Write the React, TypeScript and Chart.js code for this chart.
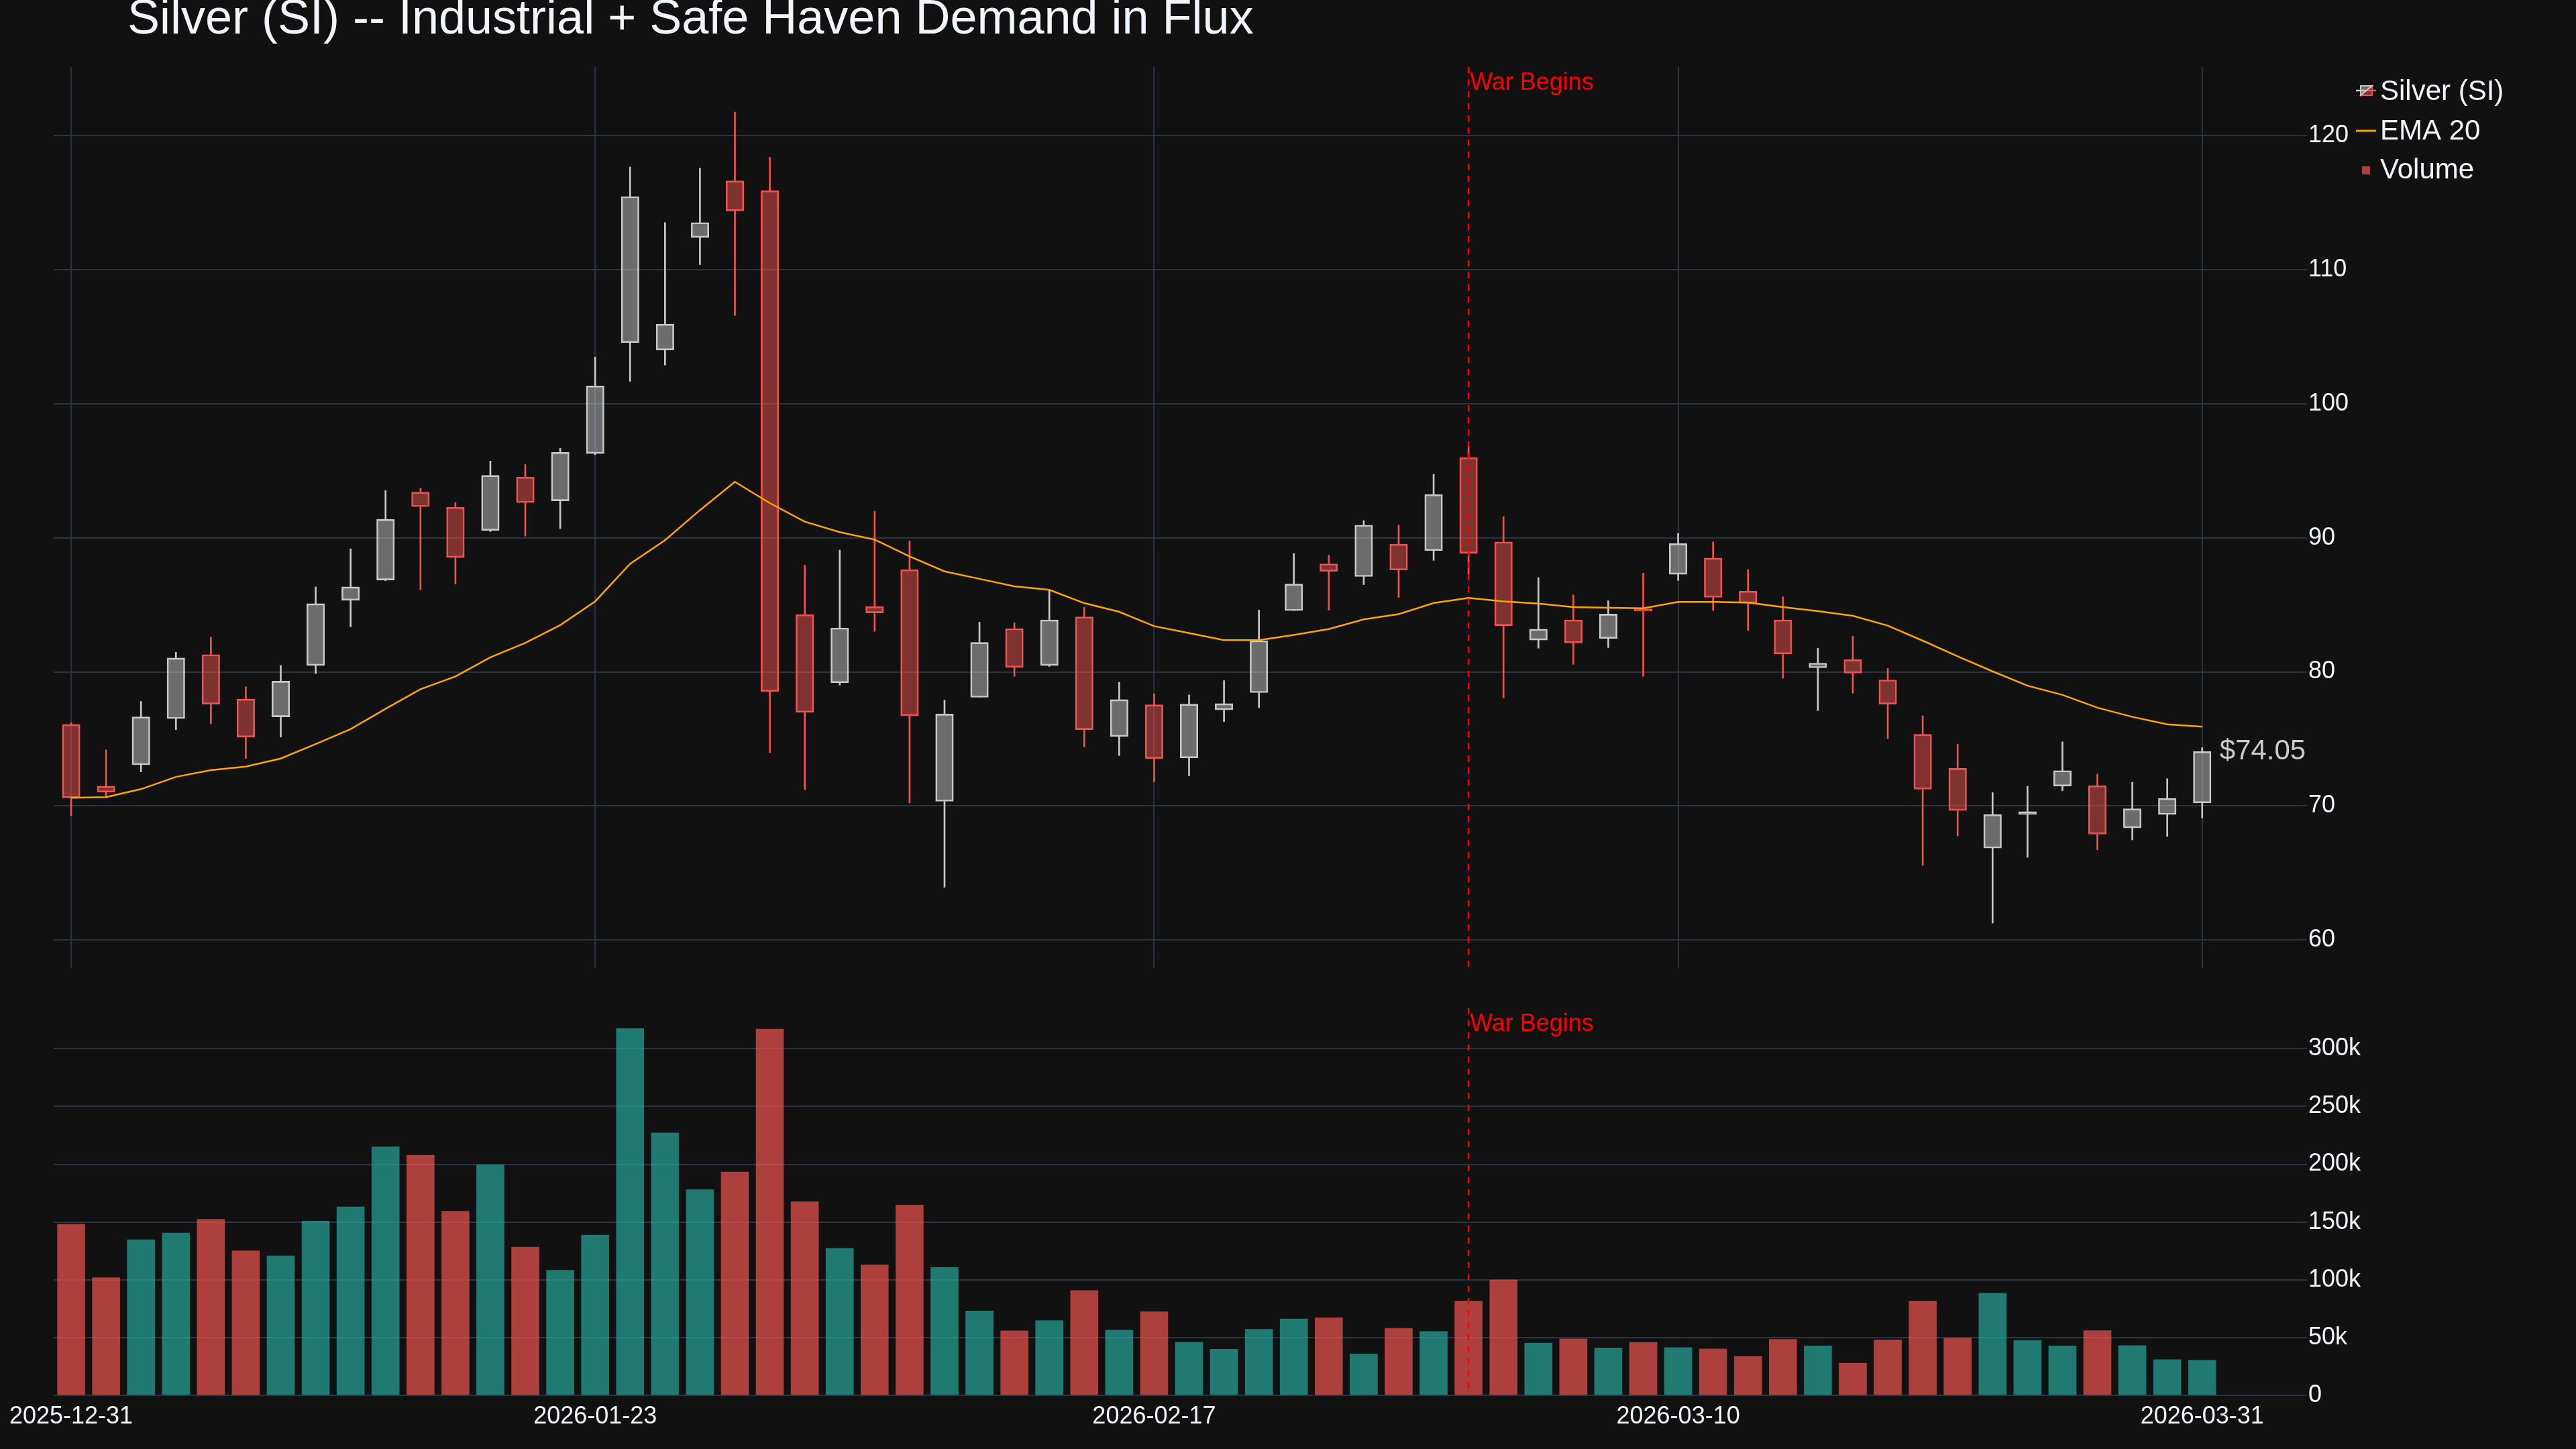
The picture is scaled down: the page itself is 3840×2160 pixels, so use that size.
import React, { useEffect, useRef } from 'react';
import { Chart, registerables } from 'chart.js';

Chart.register(...registerables);

// trading days shown on the x axis
const dates = [
  '2025-12-31',
  '2026-01-02', '2026-01-05', '2026-01-06', '2026-01-07', '2026-01-08', '2026-01-09',
  '2026-01-12', '2026-01-13', '2026-01-14', '2026-01-15', '2026-01-16',
  '2026-01-20', '2026-01-21', '2026-01-22', '2026-01-23',
  '2026-01-26', '2026-01-27', '2026-01-28', '2026-01-29', '2026-01-30',
  '2026-02-02', '2026-02-03', '2026-02-04', '2026-02-05', '2026-02-06',
  '2026-02-09', '2026-02-10', '2026-02-11', '2026-02-12', '2026-02-13',
  '2026-02-17', '2026-02-18', '2026-02-19', '2026-02-20',
  '2026-02-23', '2026-02-24', '2026-02-25', '2026-02-26', '2026-02-27',
  '2026-03-02', '2026-03-03', '2026-03-04', '2026-03-05', '2026-03-06',
  '2026-03-09', '2026-03-10', '2026-03-11', '2026-03-12', '2026-03-13',
  '2026-03-16', '2026-03-17', '2026-03-18', '2026-03-19', '2026-03-20',
  '2026-03-23', '2026-03-24', '2026-03-25', '2026-03-26', '2026-03-27',
  '2026-03-30', '2026-03-31',
];

const opens = [
  76.08, 71.47, 73.06, 76.51, 81.29, 77.97, 76.64, 80.47, 85.34, 86.85, 93.41, 92.28, 90.56, 94.53, 92.76, 96.29,
  104.57, 104.01, 112.41, 116.64, 115.91, 84.27, 79.18, 84.87, 87.63, 70.34, 78.1, 83.23, 80.47, 84.1, 75.17, 77.54,
  73.58, 77.16, 78.45, 84.57, 88.06, 87.11, 89.53, 89.05, 95.99, 89.7, 82.37, 83.88, 82.5, 84.7, 87.28,
  88.49, 86.03, 83.88, 80.3, 80.91, 79.4, 75.34, 72.8, 66.85, 69.35, 71.47, 71.51, 68.36, 69.35, 70.22,
];
const highs = [
  76.2, 74.18, 77.8, 81.47, 82.59, 78.88, 80.47, 86.34, 89.18, 93.53, 93.71, 92.63, 95.73, 95.47, 96.68, 103.49,
  117.67, 113.53, 117.59, 121.77, 118.41, 87.97, 89.09, 91.98, 89.78, 77.89, 83.71, 83.66, 86.12, 84.83, 79.22, 78.36,
  78.28, 79.35, 84.61, 88.84, 88.71, 91.29, 90.95, 94.74, 96.9, 91.59, 87.03, 85.73, 85.3, 87.37, 90.34,
  89.7, 87.63, 85.6, 81.77, 82.67, 80.26, 76.72, 74.61, 70.99, 71.47, 74.78, 72.37, 71.77, 72.03, 74.35,
];
const lows = [
  69.27, 70.6, 72.54, 75.69, 76.12, 73.53, 75.13, 79.87, 83.36, 86.8, 86.12, 86.55, 90.47, 90.13, 90.69, 96.2,
  101.68, 102.89, 110.39, 106.59, 73.97, 71.21, 79.01, 83.02, 70.22, 63.92, 78.1, 79.66, 80.4, 74.4, 73.75, 71.81,
  72.24, 76.29, 77.33, 84.57, 84.61, 86.51, 85.56, 88.32, 87.3, 78.06, 81.77, 80.56, 81.81, 79.66, 86.81,
  84.57, 83.1, 79.53, 77.11, 78.41, 75.0, 65.56, 67.76, 61.25, 66.16, 71.12, 66.72, 67.46, 67.72, 69.09,
];
const closes = [
  70.6, 71.03, 76.64, 81.03, 77.59, 75.13, 79.31, 85.09, 86.34, 91.38, 92.33, 88.53, 94.66, 92.63, 96.38, 101.34,
  115.47, 105.95, 113.53, 114.4, 78.53, 76.98, 83.28, 84.4, 76.72, 76.85, 82.2, 80.34, 83.88, 75.69, 77.93, 73.53,
  77.59, 77.63, 82.33, 86.55, 87.5, 90.95, 87.59, 93.23, 88.84, 83.45, 83.19, 82.16, 84.31, 84.53, 89.57,
  85.56, 85.13, 81.34, 80.65, 79.91, 77.59, 71.25, 69.66, 69.35, 69.57, 72.63, 67.89, 69.78, 70.56, 74.05,
];
const ema20 = [
  70.6, 70.65, 71.25, 72.16, 72.67, 72.93, 73.53, 74.61, 75.73, 77.24, 78.71, 79.66, 81.08, 82.16, 83.49, 85.26,
  88.06, 89.83, 92.07, 94.18, 92.59, 91.21, 90.43, 89.87, 88.62, 87.5, 86.94, 86.38, 86.12, 85.13, 84.48, 83.41,
  82.89, 82.37, 82.37, 82.76, 83.19, 83.92, 84.31, 85.13, 85.52, 85.26, 85.09, 84.83, 84.78, 84.74, 85.22,
  85.22, 85.17, 84.83, 84.53, 84.18, 83.45, 82.33, 81.16, 80.04, 78.97, 78.28, 77.33, 76.64, 76.08, 75.91,
];
const volumes = [
  148200, 101800, 134700, 140400, 152400, 125100, 120700, 150700, 163100, 215100, 207800, 159300, 199600, 128200, 108200, 138700,
  317600, 227100, 178000, 193300, 316900, 167600, 127300, 112900, 164700, 110700, 72900, 55800, 64700, 90700, 56400, 72400,
  46000, 39800, 57100, 66200, 67100, 35800, 58000, 55300, 81600, 100000, 45300, 48900, 41100, 45800, 41300,
  40200, 33800, 48400, 42700, 27800, 48000, 81600, 49600, 88400, 47600, 42700, 56000, 43100, 30900, 30400,
];

const priceTicks = [60, 70, 80, 90, 100, 110, 120];
const volumeTicks = [0, 50000, 100000, 150000, 200000, 250000, 300000];
const dateTicks = ['2025-12-31', '2026-01-23', '2026-02-17', '2026-03-10', '2026-03-31'];
const warDate = '2026-03-02';

const FONT = '"Liberation Sans", Arial, sans-serif';
const TEXT = '#f2f5fa';
const GRID = '#283442';
const UP_LINE = '#c8c8c8';
const UP_FILL = 'rgba(200, 200, 200, 0.5)';
const DOWN_LINE = '#ef5350';
const DOWN_FILL = 'rgba(239, 83, 80, 0.5)';
const VOL_UP = 'rgba(38, 166, 154, 0.7)';
const VOL_DOWN = 'rgba(239, 83, 80, 0.7)';
const EMA_COLOR = '#ffa500';

const W = 3840;
const PRICE_H = 1500;
const VOL_TOP = 1470;
const VOL_H = 2160 - VOL_TOP;
const AXIS_W = 401;

const isUp = closes.map((c, i) => c >= opens[i]);
const tickIdx = dateTicks.map((d) => dates.indexOf(d));
const warIdx = dates.indexOf(warDate);
const last = closes.length - 1;

const warPlugin = {
  id: 'warLine',
  afterDatasetsDraw(chart: any) {
    const { ctx, chartArea, scales } = chart;
    const x = scales.x.getPixelForValue(warIdx);
    ctx.save();
    ctx.strokeStyle = 'red';
    ctx.lineWidth = 2.5;
    ctx.setLineDash([9, 9]);
    ctx.beginPath();
    ctx.moveTo(x, chartArea.top);
    ctx.lineTo(x, chartArea.bottom);
    ctx.stroke();
    ctx.setLineDash([]);
    ctx.fillStyle = 'red';
    ctx.font = `36px ${FONT}`;
    ctx.textAlign = 'left';
    ctx.textBaseline = 'alphabetic';
    ctx.fillText('War Begins', x + 2, chartArea.top + 34);
    ctx.restore();
  },
};

// last price tag + legend on the price panel
const pricePlugin = {
  id: 'priceExtras',
  afterDraw(chart: any) {
    const { ctx, scales } = chart;
    ctx.save();
    ctx.font = `42px ${FONT}`;
    ctx.textAlign = 'left';
    ctx.textBaseline = 'middle';
    ctx.fillStyle = '#cccccc';
    ctx.fillText(`$${closes[last].toFixed(2)}`, scales.x.getPixelForValue(last) + 26, scales.y.getPixelForValue(closes[last]));

    // candlestick icon
    ctx.lineWidth = 2.5;
    ctx.strokeStyle = UP_LINE;
    ctx.beginPath();
    ctx.moveTo(3512, 135);
    ctx.lineTo(3527, 135);
    ctx.stroke();
    ctx.strokeStyle = DOWN_LINE;
    ctx.beginPath();
    ctx.moveTo(3527, 135);
    ctx.lineTo(3542, 135);
    ctx.stroke();
    ctx.lineWidth = 2;
    ctx.fillStyle = DOWN_FILL;
    ctx.beginPath();
    ctx.moveTo(3536, 128);
    ctx.lineTo(3536, 142);
    ctx.lineTo(3519, 142);
    ctx.closePath();
    ctx.fill();
    ctx.stroke();
    ctx.fillStyle = UP_FILL;
    ctx.strokeStyle = UP_LINE;
    ctx.beginPath();
    ctx.moveTo(3519, 142);
    ctx.lineTo(3519, 128);
    ctx.lineTo(3536, 128);
    ctx.closePath();
    ctx.fill();
    ctx.stroke();

    // EMA icon
    ctx.strokeStyle = EMA_COLOR;
    ctx.lineWidth = 3;
    ctx.beginPath();
    ctx.moveTo(3512, 195);
    ctx.lineTo(3542, 195);
    ctx.stroke();

    // volume icon
    ctx.fillStyle = VOL_DOWN;
    ctx.fillRect(3521, 248, 12, 12);

    ctx.fillStyle = TEXT;
    ctx.fillText('Silver (SI)', 3548, 137);
    ctx.fillText('EMA 20', 3548, 196);
    ctx.fillText('Volume', 3548, 254);
    ctx.restore();
  },
};

const tickFont = { family: FONT, size: 36 };

const App: React.FC = () => {
  const priceRef = useRef<HTMLCanvasElement>(null);
  const volRef = useRef<HTMLCanvasElement>(null);

  useEffect(() => {
    if (!priceRef.current || !volRef.current) return;

    const xBase = {
      type: 'linear' as const,
      min: -0.5,
      max: 64,
      offset: false,
      border: { display: false },
      afterBuildTicks: (s: any) => {
        s.ticks = tickIdx.map((value) => ({ value }));
      },
    };

    const priceChart = new Chart(priceRef.current, {
      type: 'bar',
      data: {
        datasets: [
          {
            type: 'line',
            label: 'EMA 20',
            data: ema20.map((y, x) => ({ x, y })),
            borderColor: EMA_COLOR,
            borderWidth: 2.5,
            pointRadius: 0,
            tension: 0,
            order: 0,
          } as any,
          {
            label: 'Silver (SI)',
            data: opens.map((o, x) => ({ x, y: [o, closes[x]] })),
            backgroundColor: isUp.map((u) => (u ? UP_FILL : DOWN_FILL)),
            borderColor: isUp.map((u) => (u ? UP_LINE : DOWN_LINE)),
            borderWidth: 2,
            borderSkipped: false,
            barThickness: 26.5,
            maxBarThickness: 26.5,
            grouped: false,
            order: 1,
          },
          {
            label: 'upper wick',
            data: highs.map((h, x) => ({ x, y: [Math.max(opens[x], closes[x]), h] })),
            backgroundColor: isUp.map((u) => (u ? UP_LINE : DOWN_LINE)),
            barThickness: 2,
            maxBarThickness: 2,
            grouped: false,
            order: 2,
          },
          {
            label: 'lower wick',
            data: lows.map((l, x) => ({ x, y: [l, Math.min(opens[x], closes[x])] })),
            backgroundColor: isUp.map((u) => (u ? UP_LINE : DOWN_LINE)),
            barThickness: 2,
            maxBarThickness: 2,
            grouped: false,
            order: 2,
          },
        ] as any,
      },
      options: {
        animation: false,
        responsive: false,
        devicePixelRatio: 1,
        layout: { padding: { left: 80, top: 100, right: 0, bottom: 57 } },
        plugins: { legend: { display: false }, tooltip: { enabled: false } },
        scales: {
          x: {
            ...xBase,
            grid: { color: GRID, lineWidth: 2, drawTicks: false, offset: false },
            ticks: { display: false },
            afterFit: (s: any) => {
              s.height = 0;
            },
          },
          y: {
            position: 'right',
            min: 57.9,
            max: 125.13,
            border: { display: false },
            grid: { color: GRID, lineWidth: 2, drawTicks: false },
            ticks: { color: TEXT, font: tickFont, padding: 2 },
            afterBuildTicks: (s: any) => {
              s.ticks = priceTicks.map((value) => ({ value }));
            },
            afterFit: (s: any) => {
              s.width = AXIS_W;
            },
          },
        } as any,
      },
      plugins: [warPlugin, pricePlugin],
    });

    const volChart = new Chart(volRef.current, {
      type: 'bar',
      data: {
        datasets: [
          {
            label: 'Volume',
            data: volumes.map((y, x) => ({ x, y })),
            backgroundColor: isUp.map((u) => (u ? VOL_UP : VOL_DOWN)),
            barThickness: 41,
            maxBarThickness: 41,
            grouped: false,
          },
        ] as any,
      },
      options: {
        animation: false,
        responsive: false,
        devicePixelRatio: 1,
        // top padding bigger than half a tick label so the plot starts at 1503
        layout: { padding: { left: 80, top: 1503 - VOL_TOP, right: 0, bottom: 0 } },
        plugins: { legend: { display: false }, tooltip: { enabled: false } },
        scales: {
          x: {
            ...xBase,
            grid: { display: false, offset: false },
            ticks: {
              color: TEXT,
              font: tickFont,
              padding: 2,
              autoSkip: false,
              maxRotation: 0,
              callback: (v: any) => dates[Number(v)] ?? '',
            },
            afterFit: (s: any) => {
              s.height = 80;
            },
          },
          y: {
            position: 'right',
            min: 0,
            max: 335000,
            border: { display: false },
            grid: { color: GRID, lineWidth: 2, drawTicks: false },
            ticks: {
              color: TEXT,
              font: tickFont,
              padding: 2,
              callback: (v: any) => (Number(v) === 0 ? '0' : `${Number(v) / 1000}k`),
            },
            afterBuildTicks: (s: any) => {
              s.ticks = volumeTicks.map((value) => ({ value }));
            },
            afterFit: (s: any) => {
              s.width = AXIS_W;
            },
          },
        } as any,
      },
      plugins: [warPlugin],
    });

    return () => {
      priceChart.destroy();
      volChart.destroy();
    };
  }, []);

  return (
    <div
      style={{
        position: 'absolute',
        left: 0,
        top: 0,
        width: W,
        height: 2160,
        background: '#111111',
        overflow: 'hidden',
      }}
    >
      <canvas
        ref={priceRef}
        width={W}
        height={PRICE_H}
        style={{ position: 'absolute', left: 0, top: 0, width: W, height: PRICE_H }}
      />
      <canvas
        ref={volRef}
        width={W}
        height={VOL_H}
        style={{ position: 'absolute', left: 0, top: VOL_TOP, width: W, height: VOL_H }}
      />
      <div
        style={{
          position: 'absolute',
          left: 190,
          top: -11,
          fontFamily: FONT,
          fontSize: 72,
          lineHeight: '72px',
          color: TEXT,
          whiteSpace: 'nowrap',
        }}
      >
        Silver (SI) -- Industrial + Safe Haven Demand in Flux
      </div>
    </div>
  );
};

export default App;
